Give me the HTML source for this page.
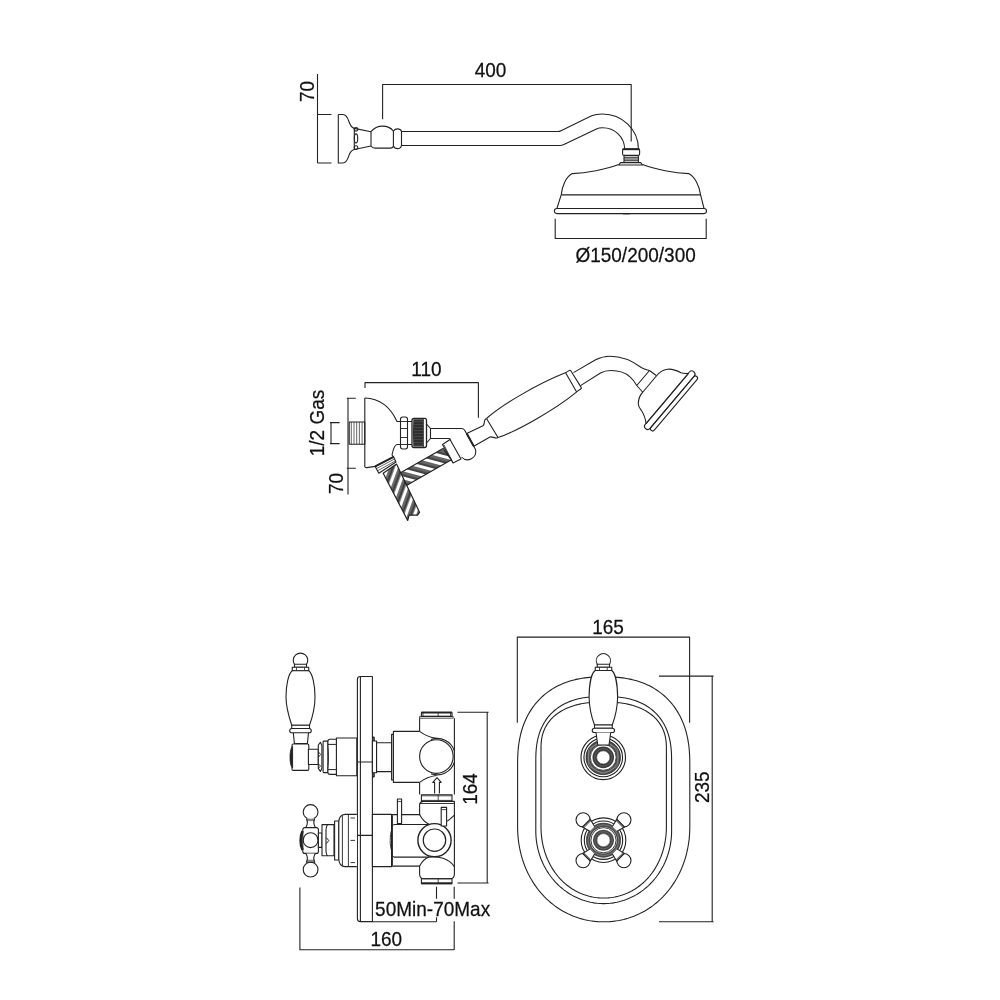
<!DOCTYPE html>
<html><head><meta charset="utf-8">
<style>
html,body{margin:0;padding:0;background:#fff;width:1000px;height:1000px;overflow:hidden}
svg{display:block;will-change:transform}
text{font-family:"Liberation Sans",sans-serif;fill:#111;stroke:#111;stroke-width:0.25px}
</style></head>
<body>
<svg width="1000" height="1000" viewBox="0 0 1000 1000">
<defs>
<pattern id="stripeA" patternUnits="userSpaceOnUse" width="7.8" height="20" patternTransform="rotate(-75)">
<rect width="7.8" height="20" fill="#fff"/>
<rect x="3" width="0.7" height="20" fill="#222"/><rect x="4.2" width="0.7" height="20" fill="#222"/><rect x="5.4" width="0.7" height="20" fill="#222"/><rect x="6.6" width="0.7" height="20" fill="#222"/>
<rect x="3" width="4.8" height="20" fill="#000" opacity="0.35"/>
</pattern>
<pattern id="stripeB" patternUnits="userSpaceOnUse" width="8.3" height="20" patternTransform="rotate(20)">
<rect width="8.3" height="20" fill="#fff"/>
<rect x="3.2" width="0.7" height="20" fill="#222"/><rect x="4.4" width="0.7" height="20" fill="#222"/><rect x="5.6" width="0.7" height="20" fill="#222"/><rect x="6.8" width="0.7" height="20" fill="#222"/>
<rect x="3.2" width="5.1" height="20" fill="#000" opacity="0.35"/>
</pattern>

<pattern id="hatch" patternUnits="userSpaceOnUse" width="1.6" height="1.6" patternTransform="rotate(0)">
<rect width="1.6" height="1.6" fill="#fff"/><rect width="1.6" height="0.9" fill="#333"/>
</pattern>
</defs>
<g fill="none" stroke="#222" stroke-width="1.1" stroke-linejoin="round" stroke-linecap="butt">

<!-- ============ TOP: SHOWER ARM ============ -->
<!-- dim 70 -->
<path d="M317.5,74 V163 M317.5,114.5 H331.5 M317.5,163 H331.5"/>
<!-- escutcheon plate -->
<path d="M338.3,114.5 H343 C347,114.5 348,119 349.5,123 C351,127 353,128.4 355.5,128.6 L371,131.7 M338.3,114.5 V163 H343 C347,163 348,158 349.5,154 C351,150.5 353,149.4 355.5,149.2 L371,146"/>
<path d="M354.3,128.2 V149.3"/>
<ellipse cx="356" cy="129.3" rx="1.8" ry="1.8"/>
<ellipse cx="356" cy="138.4" rx="1.7" ry="4.5"/>
<ellipse cx="356" cy="147.6" rx="1.8" ry="1.9"/>
<!-- ball -->
<path d="M371,131.7 C374,128 378,126.1 382.6,126.1 C387,126.1 391,128 393.4,131 M371,131.7 V146 C372,147.5 373.5,148.1 375,148.1 H390.5 C392.5,148.1 393.4,146.5 393.4,146"/>
<path d="M393.4,131 C394.5,129.5 396,128.9 397.5,128.9 C399.5,128.9 401,130 401.5,131.3 V145.3 C401,147.5 399.5,148.6 397.5,148.6 C395.5,148.6 394,147.5 393.4,146 Z"/>
<!-- arm -->
<path d="M401.5,131.5 H556.8 Q559,131.8 561.5,130.4 L591.6,115.8 Q596,114 602.4,114 A36,35 0 0 1 638.4,148.8"/>
<path d="M401.5,145.5 H560.4 Q562.5,145.4 565,144.1 L596.4,129 Q599,127.8 602.4,127.8 A22,21 0 0 1 624.6,148.8"/>
<!-- dim 400 -->
<path d="M382.6,119.2 V84.5 H631.2 V141.6"/>
<!-- nut -->
<rect x="622.6" y="148.8" width="17" height="6.6" rx="1.5"/>
<path d="M622.6,149.3 H639.6" stroke-width="1.8"/>
<path d="M624,155.4 V162.6 M638.4,155.4 V162.6 M624,157.2 H638.4 M624,159 H638.4 M624,160.8 H638.4"/>
<path d="M618.6,165 L620.5,162.6 H640.7 L642.6,165 Z"/>
<!-- shower head -->
<path d="M618.6,164.5 C606,169.5 586,173 572.2,173.6 C566,177 562,186 561.2,194.9 L556.9,208.5"/>
<path d="M642.6,164.5 C655,169.5 675,173 688.7,173.6 C695,177 699.5,186 700.6,194.9 L704,208.5"/>
<path d="M561.2,194.9 H700.6 M556.9,208.5 H704"/>
<rect x="554.4" y="208.5" width="152.1" height="5.1" rx="2.5"/>
<path d="M623,213.8 H630"/>
<!-- dim diameter -->
<path d="M555.2,218.7 V238.5 H706.2 V218.7"/>

<!-- ============ MIDDLE: HAND SHOWER ============ -->
<path d="M365,388 V382.6 H478.4 V417.8"/>
<path d="M346.8,398.2 H355.8 M348,398.2 V494.6 M346.8,468.2 H355.8"/>
<path d="M330,422.6 H339.6 M331,422.6 V443.6 M330,443.6 H339.6"/>
<!-- thread -->
<rect x="349.2" y="422" width="15.6" height="22.2"/>
<path d="M351.3,422 V444.2 M354,422 V444.2 M356.7,422 V444.2 M359.4,422 V444.2 M362.1,422 V444.2" stroke-width="0.7"/>
<!-- escutcheon dome -->
<path d="M364.8,398 V466.6 Q365,467.8 367,467.6 L375.2,466.4"/>
<path d="M364.8,398 C378,398.5 390,406 397,421.5 H400.5"/>
<path d="M400.5,444.5 H397 C394,445 393,450 392,455 L393.6,456.8"/>
<!-- nut -->
<rect x="400.5" y="417" width="7" height="32" rx="2.2"/>
<path d="M400.5,421.5 H407.5 M400.5,428.5 H407.5 M400.5,437.5 H407.5 M400.5,444.5 H407.5" stroke-width="0.9"/>
<path d="M407.5,421.5 H412 M407.5,444.5 H412"/>
<!-- knurled -->
<rect x="412" y="418.3" width="14.5" height="29.2" rx="2" fill="#fff" stroke-width="1.3"/>
<path d="M413.3,419.3 H423 V446.5 H413.3 Q412.6,433 413.3,419.3 Z" fill="#2e2e2e" stroke="none"/>
<path d="M414,421.5 H423 M414,424.5 H423 M414,427.5 H423 M414,430.5 H423 M414,433.5 H423 M414,436.5 H423 M414,439.5 H423 M414,442.5 H423 M414,445 H423" stroke="#666" stroke-width="0.45"/>
<path d="M423.5,418.8 V447" stroke-width="0.8"/>
<path d="M426.5,424 L430.5,428.5 V438.5 L426.5,443"/>
<!-- pipe + holder -->
<path d="M430.5,428.5 H461.5 Q463.5,428.5 464.5,430 L475.5,449.5 A8.2,8.2 0 0 1 461.5,457"/>
<path d="M430.5,438.5 H448.5 Q450,438.5 450.6,439.5"/>
<path d="M442.5,444.5 L450,439.5 L461,459 L453,463 Z" fill="#fff"/>
<path d="M444,445 L452.6,462" stroke-width="0.8"/>
<!-- hose to handset -->
<path d="M466.7,433.6 L473.8,446.2" stroke-width="2"/>

<!-- handset -->
<path d="M466.7,433.6 L483,425.75 C484.5,424.5 484.3,422 484.6,420.6 C485,419.5 485.8,418.9 486.5,418.5"/>
<path d="M473.8,446.2 L490,437 C492,436.5 494,438 497,438 L498,437.6"/>
<path d="M486.5,418.5 C502,405 535,385 565.9,372.6 M498,437.5 C515,432 555,410 576.7,391.9 M486.5,418.5 L498,437.5" fill="#fff"/>
<path d="M566.2,372.4 L569.5,370.4 Q570.3,370 570.8,370.7 L581.3,387.6 Q581.6,388.3 581,388.7 L577.2,391.4 Q576.6,391.8 576.2,391.2 L565.9,373.3 Q565.7,372.7 566.2,372.4 Z"/>
<path d="M573.5,372.6 L595.6,359.7 C600,357.5 604,356.2 610,356.2 C620,356.2 630,359 641.25,367.5 C644,369.3 646.5,369.6 649.5,370.5"/>
<path d="M580.5,385.6 L600.5,373 C603,371.5 607,370.5 611,370.5 C620,370.5 627,374 630,376.9 C633,379.5 635,382.5 636.75,385.5"/>
<path d="M649.5,370.5 L656.6,375.75 M649.5,370.5 L636.75,385.5 L642.75,392.25 M656.6,375.75 L642.75,392.25"/>
<path d="M656.6,375.75 C659,372.5 662,370 667.5,369.2 C671,368.8 676,370 681,372.8 C684,373.8 686,373.6 689,373.3"/>
<path d="M642.75,392.25 C640,395 638.5,398.5 638.25,403.5 C638.5,407 640,409 641.25,410.25 C643.5,413.5 645.5,419 646.1,423.75"/>
<g transform="translate(646.1,423.75) rotate(-49.8)">
<path d="M0,0 H65.8"/>
<rect x="-4" y="-0.3" width="74.5" height="6.3" rx="3"/>
<rect x="-1.8" y="6" width="70.6" height="4.4" rx="2.2"/>
</g>
<!-- striped cross hose -->
<path d="M401,472.4 L443,448.4 L451.4,459.8 L406.4,485.6 Q401,483 400.5,478 Z" fill="url(#stripeA)" stroke-width="1.2"/>
<!-- collar down -->
<path d="M375.2,466.4 L393.6,456.8 L396,462 L378.8,473.2 Z" fill="#fff"/>
<path d="M376.5,468.6 L394.5,459 M377.6,470.8 L395.2,461" stroke-width="0.7"/>
<path d="M375.2,466.4 L393.6,456.8" stroke-width="1.9"/>
<!-- striped down hose -->
<path d="M383.2,473.2 L396.5,464.1 L419.6,512.4 L417.5,515.2 L409.1,515.2 L407.7,520.5 Z" fill="url(#stripeB)" stroke-width="1.2"/>

<!-- ============ BOTTOM LEFT: SIDE VIEW ============ -->
<!-- lever handle -->
<path d="M294.5,664.4 A7.25,7.25 0 1 1 306.5,664.4" fill="#fff"/>
<rect x="294.5" y="664.3" width="12" height="3" fill="#fff"/>
<rect x="292.25" y="667.3" width="16.5" height="3.45" fill="#fff"/>
<path d="M296.5,667.5 V670.5 M304.5,667.5 V670.5" stroke-width="0.8"/>
<path d="M292.25,670.75 C288.5,673.5 286,685 286,697 C286,708 289,717 291.75,725.25 H309.5 C312.5,717 315,708 315,697 C315,685 312.5,673.5 308.75,670.75 Z" fill="#fff"/>
<rect x="291.75" y="725.25" width="17.75" height="3.25" fill="#fff"/>
<rect x="289.75" y="728.5" width="21.5" height="4.25" rx="2.1" fill="#fff"/>
<path d="M293.3,732.75 L294.4,743.6 H307.4 L308.5,732.75"/>
<rect x="292" y="744" width="16.8" height="26.4" rx="1.2" fill="#fff"/>
<path d="M292.6,746.2 C290.6,748.5 290,752 290,757.2 C290,762.4 290.6,766 292.6,768 Z" fill="#222" stroke-width="0.8"/>
<rect x="308.4" y="749.2" width="9.9" height="15.3" fill="#fff"/>
<path d="M320.4,742.3 L318.3,745 V768.4 L320.4,771.4 L321.9,768.4 V745.6 Z" fill="#fff"/>
<path d="M318.6,752 L320.6,754.5 L318.6,757 M318.6,764 L320.6,766.2 L318.6,768" stroke-width="0.9"/>
<rect x="323.1" y="741.1" width="4.8" height="31.5" rx="0.8" fill="#fff"/>
<path d="M336.6,739.3 H330 Q327.9,739.3 327.9,741.5 V744.4 Q328.8,757 327.9,769.6 V772.2 Q327.9,774.4 330,774.4 H336.6 Z" fill="#fff"/>
<path d="M328,744.4 H336.6 M328,769.6 H336.6" stroke-width="1"/>
<rect x="336.4" y="738" width="20.4" height="37.8" fill="#fff"/>

<!-- plate -->
<path d="M357.4,679.3 Q357.4,676.5 360.4,676.5 H372.4 V921.6 H360.4 Q357.4,921.6 357.4,918.8 Z" fill="#fff"/>
<path d="M360.4,676.5 V921.6 M357.4,762 H372.4 M357.4,835.4 H372.4"/>

<!-- right of plate upper -->
<path d="M372.4,737 L374,737.5 V776.5 L372.4,777" stroke-width="1.6"/>
<rect x="372.4" y="741" width="4.2" height="31.8" fill="#fff"/>
<rect x="376.6" y="742.8" width="15" height="28.8" fill="#fff"/>
<rect x="391.6" y="734.4" width="1.8" height="45.6" fill="#fff"/>
<rect x="393.4" y="731.4" width="26.2" height="51" fill="#fff" stroke="none"/>
<path d="M419.6,731.4 H393.4 V782.4 H419.6"/>
<!-- T body upper -->
<path d="M419.6,718.2 V731.4 M419.6,782.4 V794.4 M454.4,718.2 V794.4"/>
<rect x="421.4" y="712.2" width="30.6" height="4.2" rx="0.5"/>
<path d="M421.4,712.6 H452" stroke-width="1.8"/>
<path d="M419.6,716.4 H453.2 V718.2 H419.6 Z M438.2,712.2 V716.4 M423,713 V716 M450.5,713 V716" stroke-width="0.8"/>
<path d="M419.6,731.4 C425,735.5 430,737.5 436.4,738.3"/>
<path d="M419.6,782.4 C425,778.3 430,776.3 436.4,775.5"/>
<circle cx="436.4" cy="756.6" r="16.8"/>
<path d="M431,739.5 A18,18 0 0 1 454.4,751" />
<path d="M431,773.7 A18,18 0 0 0 454.4,762.2" />
<path d="M434.6,793.6 V782.4 H432.8 L437,777.6 L441.2,782.4 H439.4 V793.6"/>

<!-- lower valve -->
<rect x="372.4" y="814.4" width="19.2" height="52.2" fill="#fff"/>

<rect x="421.4" y="794.8" width="30.6" height="6.6"/>
<path d="M421.4,795.8 H452 M421.4,800.4 H452 M438.2,794.8 V801.4" stroke-width="0.8"/>
<path d="M420,803.5 H454.4" stroke-width="0.9"/>
<path d="M423,801.4 H454.4 V874 Q454.4,878.8 450,878.8 H424 Q419.6,878.8 419.6,874 V865.6"/>
<path d="M423,801.4 Q419.6,802 419.6,805 V815.2"/>
<path d="M419.6,814.6 C422,819.5 425,822.8 429.5,824.5"/>
<path d="M419.6,866.1 C422,861.5 425,858.5 429.1,857.1"/>
<path d="M447.2,821.2 C450,819.5 452,817.5 454.4,815.2"/>
<path d="M429.1,857.1 C438,855.8 449,858.5 454.4,866.6"/>
<path d="M391.6,814.6 H419.6 M391.6,866.1 H419.6 M393.8,824.5 H429.5 M393.8,857.1 H429.1"/>
<path d="M392,815.2 V865.6" stroke-width="1.8"/>
<path d="M394,824.5 C391.8,825.5 391.3,827.5 391.8,829.5 C389.8,835 389.6,846 391.8,851 C391.3,853 391.8,856 394,857" stroke-width="0.9"/>
<circle cx="434.5" cy="840.2" r="16.6" fill="#fff" stroke-width="1.4"/>
<circle cx="434.5" cy="840.2" r="11.2" stroke-width="1.2"/>
<rect x="397.4" y="799" width="4.2" height="24.6" fill="#fff"/>
<path d="M397.4,801.6 H401.6" stroke-width="0.8"/>
<rect x="441.2" y="807.4" width="5.4" height="18.6" fill="#fff"/>
<path d="M441.2,809.6 H446.6" stroke-width="0.8"/>
<rect x="421.4" y="878.8" width="30.6" height="4.8"/>
<path d="M421.4,882.8 H452 M438.2,878.8 V883.6" stroke-width="0.8"/>
<path d="M421.4,883.4 H452" stroke-width="1.6"/>

<!-- cross handle side -->
<circle cx="310.6" cy="812" r="7.4" fill="#fff"/>
<path d="M306.4,818.6 C308,822 307.5,825 305.8,827.6 H315.4 C313.7,825 313.2,822 314.8,818.6" fill="#fff"/>
<path d="M306.8,819.6 H314.4 M306.6,820.6 H314.6" stroke-width="0.6"/>
<rect x="302.8" y="827.6" width="15.6" height="25.8" rx="2" fill="#fff"/>
<circle cx="310.6" cy="840.2" r="7.4"/>
<path d="M302.6,831 C300,836 300,845 302.6,850" stroke-width="2.6"/>
<path d="M305.8,853.4 C307.5,856 308,859 306.4,862.2 H314.8 C313.2,859 313.7,856 315.4,853.4" fill="#fff"/>
<path d="M306.6,860.2 H314.6 M306.8,861.2 H314.4" stroke-width="0.6"/>
<circle cx="310.6" cy="869.6" r="7.4" fill="#fff"/>
<rect x="318.4" y="833" width="3.6" height="14.4" fill="#fff"/>
<rect x="322" y="824.6" width="12" height="31.2" fill="#fff"/>
<path d="M327.5,825 Q325.8,827 326,832 V849 Q325.8,854 327.5,856" stroke-width="1.1"/>
<path d="M326.2,837.5 L328.8,840.6 L326.2,843.7" stroke-width="1"/>
<rect x="334.6" y="821" width="4.2" height="39" fill="#fff"/>
<path d="M338.8,814.4 H356.8 V866.6 H338.8 C335.5,866 340.5,866 338.8,866.6 Z" stroke="none" fill="#fff"/>
<path d="M356.8,814.4 H345 C341,814.4 338.8,818 338.8,822 V859 C338.8,863 341,866.6 345,866.6 H356.8"/>
<path d="M342.4,815.5 V865.5 M348.4,814.4 V866.6" stroke-width="0.9"/>
<path d="M350.5,818 H355 M350.5,840.4 H355 M350.5,862.6 H355" stroke-width="0.9"/>

<!-- dims bottom left -->
<path d="M457.4,712.2 H488.6 M487.2,712.2 V883 M457.4,883 H488.6"/>
<path d="M436.5,886.7 V898.8 M436.5,917.3 V921.8 M454.2,886.7 V898.8 M454.2,921.3 V950"/>
<path d="M372.4,921.8 H436.5"/>
<path d="M299.9,887.5 V949.8 H454"/>

<!-- ============ FRONT VIEW ============ -->
<path d="M517.3,722.8 V637.1 H689.6 V722.8"/>
<path d="M659,676.1 H713.6 M712.2,676.1 V921.8 M659,921.8 H713.6"/>
<path d="M517.60,764.50 L517.63,760.52 L517.70,757.33 L517.83,754.38 L518.01,751.58 L518.24,748.89 L518.52,746.29 L518.85,743.76 L519.23,741.30 L519.66,738.90 L520.15,736.55 L520.68,734.25 L521.26,732.00 L521.89,729.79 L522.57,727.63 L523.30,725.51 L524.08,723.44 L524.91,721.41 L525.79,719.42 L526.71,717.47 L527.69,715.57 L528.71,713.70 L529.77,711.88 L530.89,710.10 L532.05,708.36 L533.25,706.67 L534.50,705.01 L535.80,703.40 L537.14,701.84 L538.53,700.31 L539.95,698.84 L541.43,697.40 L542.94,696.01 L544.50,694.67 L546.10,693.37 L547.75,692.12 L549.43,690.92 L551.16,689.76 L552.93,688.65 L554.74,687.59 L556.59,686.57 L558.48,685.61 L560.41,684.69 L562.39,683.82 L564.40,683.00 L566.46,682.23 L568.56,681.51 L570.70,680.84 L572.89,680.23 L575.12,679.66 L577.40,679.14 L579.74,678.67 L582.12,678.26 L584.57,677.90 L587.09,677.59 L589.68,677.33 L592.37,677.12 L595.19,676.96 L598.19,676.86 L601.53,676.81 L605.87,676.81 L609.21,676.86 L612.21,676.96 L615.03,677.12 L617.72,677.33 L620.31,677.59 L622.83,677.90 L625.28,678.26 L627.66,678.67 L630.00,679.14 L632.28,679.66 L634.51,680.23 L636.70,680.84 L638.84,681.51 L640.94,682.23 L643.00,683.00 L645.01,683.82 L646.99,684.69 L648.92,685.61 L650.81,686.57 L652.66,687.59 L654.47,688.65 L656.24,689.76 L657.97,690.92 L659.65,692.12 L661.30,693.37 L662.90,694.67 L664.46,696.01 L665.97,697.40 L667.45,698.84 L668.87,700.31 L670.26,701.84 L671.60,703.40 L672.90,705.01 L674.15,706.67 L675.35,708.36 L676.51,710.10 L677.63,711.88 L678.69,713.70 L679.71,715.57 L680.69,717.47 L681.61,719.42 L682.49,721.41 L683.32,723.44 L684.10,725.51 L684.83,727.63 L685.51,729.79 L686.14,732.00 L686.72,734.25 L687.25,736.55 L687.74,738.90 L688.17,741.30 L688.55,743.76 L688.88,746.29 L689.16,748.89 L689.39,751.58 L689.57,754.38 L689.70,757.33 L689.77,760.52 L689.80,764.50 L689.80,826.50 L689.77,829.25 L689.68,831.90 L689.54,834.52 L689.33,837.11 L689.07,839.68 L688.75,842.23 L688.37,844.75 L687.93,847.25 L687.44,849.74 L686.89,852.20 L686.28,854.63 L685.62,857.05 L684.90,859.43 L684.12,861.79 L683.29,864.12 L682.41,866.43 L681.47,868.70 L680.48,870.94 L679.44,873.15 L678.34,875.32 L677.19,877.46 L676.00,879.56 L674.75,881.62 L673.45,883.65 L672.11,885.63 L670.72,887.57 L669.28,889.47 L667.80,891.32 L666.27,893.13 L664.70,894.90 L663.09,896.61 L661.43,898.28 L659.74,899.89 L658.00,901.46 L656.23,902.97 L654.42,904.43 L652.58,905.84 L650.69,907.19 L648.78,908.49 L646.83,909.73 L644.85,910.91 L642.84,912.04 L640.80,913.11 L638.74,914.12 L636.64,915.06 L634.52,915.95 L632.38,916.78 L630.21,917.55 L628.02,918.25 L625.81,918.89 L623.57,919.47 L621.32,919.98 L619.05,920.43 L616.76,920.82 L614.45,921.14 L612.12,921.40 L609.77,921.60 L607.39,921.73 L604.96,921.79 L602.44,921.79 L600.01,921.73 L597.63,921.60 L595.28,921.40 L592.95,921.14 L590.64,920.82 L588.35,920.43 L586.08,919.98 L583.83,919.47 L581.59,918.89 L579.38,918.25 L577.19,917.55 L575.02,916.78 L572.88,915.95 L570.76,915.06 L568.66,914.12 L566.60,913.11 L564.56,912.04 L562.55,910.91 L560.57,909.73 L558.62,908.49 L556.71,907.19 L554.82,905.84 L552.98,904.43 L551.17,902.97 L549.40,901.46 L547.66,899.89 L545.97,898.28 L544.31,896.61 L542.70,894.90 L541.13,893.13 L539.60,891.32 L538.12,889.47 L536.68,887.57 L535.29,885.63 L533.95,883.65 L532.65,881.62 L531.40,879.56 L530.21,877.46 L529.06,875.32 L527.96,873.15 L526.92,870.94 L525.93,868.70 L524.99,866.43 L524.11,864.12 L523.28,861.79 L522.50,859.43 L521.78,857.05 L521.12,854.63 L520.51,852.20 L519.96,849.74 L519.47,847.25 L519.03,844.75 L518.65,842.23 L518.33,839.68 L518.07,837.11 L517.86,834.52 L517.72,831.90 L517.63,829.25 L517.60,826.50 Z"/>
<path d="M535.80,761.00 L535.82,757.68 L535.88,755.15 L535.97,752.86 L536.11,750.71 L536.28,748.66 L536.49,746.70 L536.75,744.80 L537.03,742.96 L537.36,741.17 L537.73,739.43 L538.13,737.73 L538.57,736.07 L539.05,734.45 L539.57,732.86 L540.12,731.32 L540.71,729.80 L541.34,728.33 L542.01,726.88 L542.71,725.47 L543.45,724.09 L544.22,722.74 L545.04,721.42 L545.88,720.14 L546.77,718.89 L547.69,717.67 L548.64,716.48 L549.63,715.33 L550.65,714.20 L551.71,713.11 L552.81,712.06 L553.94,711.03 L555.10,710.04 L556.30,709.08 L557.53,708.16 L558.79,707.27 L560.09,706.41 L561.42,705.59 L562.79,704.80 L564.19,704.04 L565.62,703.32 L567.09,702.63 L568.59,701.98 L570.13,701.37 L571.70,700.79 L573.31,700.24 L574.95,699.73 L576.64,699.26 L578.36,698.82 L580.12,698.42 L581.93,698.05 L583.79,697.73 L585.69,697.43 L587.66,697.18 L589.69,696.96 L591.79,696.77 L593.99,696.63 L596.32,696.51 L598.84,696.44 L601.72,696.40 L605.68,696.40 L608.56,696.44 L611.08,696.51 L613.41,696.63 L615.61,696.77 L617.71,696.96 L619.74,697.18 L621.71,697.43 L623.61,697.73 L625.47,698.05 L627.28,698.42 L629.04,698.82 L630.76,699.26 L632.45,699.73 L634.09,700.24 L635.70,700.79 L637.27,701.37 L638.81,701.98 L640.31,702.63 L641.78,703.32 L643.21,704.04 L644.61,704.80 L645.98,705.59 L647.31,706.41 L648.61,707.27 L649.87,708.16 L651.10,709.08 L652.30,710.04 L653.46,711.03 L654.59,712.06 L655.69,713.11 L656.75,714.20 L657.77,715.33 L658.76,716.48 L659.71,717.67 L660.63,718.89 L661.52,720.14 L662.36,721.42 L663.18,722.74 L663.95,724.09 L664.69,725.47 L665.39,726.88 L666.06,728.33 L666.69,729.80 L667.28,731.32 L667.83,732.86 L668.35,734.45 L668.83,736.07 L669.27,737.73 L669.67,739.43 L670.04,741.17 L670.37,742.96 L670.65,744.80 L670.91,746.70 L671.12,748.66 L671.29,750.71 L671.43,752.86 L671.52,755.15 L671.58,757.68 L671.60,761.00 L671.60,831.00 L671.58,832.92 L671.51,834.83 L671.39,836.74 L671.22,838.65 L671.01,840.56 L670.75,842.45 L670.44,844.34 L670.09,846.22 L669.69,848.09 L669.25,849.94 L668.76,851.79 L668.22,853.62 L667.64,855.43 L667.01,857.23 L666.35,859.00 L665.63,860.76 L664.88,862.50 L664.08,864.22 L663.24,865.91 L662.35,867.58 L661.43,869.22 L660.47,870.84 L659.46,872.42 L658.42,873.98 L657.34,875.51 L656.22,877.01 L655.07,878.48 L653.88,879.91 L652.65,881.31 L651.39,882.67 L650.10,884.00 L648.78,885.29 L647.42,886.55 L646.03,887.76 L644.62,888.94 L643.17,890.07 L641.70,891.16 L640.20,892.22 L638.68,893.22 L637.13,894.19 L635.56,895.11 L633.97,895.99 L632.35,896.82 L630.72,897.61 L629.06,898.35 L627.39,899.04 L625.70,899.68 L624.00,900.28 L622.28,900.83 L620.55,901.33 L618.81,901.78 L617.06,902.18 L615.29,902.53 L613.52,902.84 L611.75,903.09 L609.97,903.29 L608.18,903.44 L606.39,903.54 L604.60,903.59 L602.80,903.59 L601.01,903.54 L599.22,903.44 L597.43,903.29 L595.65,903.09 L593.88,902.84 L592.11,902.53 L590.34,902.18 L588.59,901.78 L586.85,901.33 L585.12,900.83 L583.40,900.28 L581.70,899.68 L580.01,899.04 L578.34,898.35 L576.68,897.61 L575.05,896.82 L573.43,895.99 L571.84,895.11 L570.27,894.19 L568.72,893.22 L567.20,892.22 L565.70,891.16 L564.23,890.07 L562.78,888.94 L561.37,887.76 L559.98,886.55 L558.62,885.29 L557.30,884.00 L556.01,882.67 L554.75,881.31 L553.52,879.91 L552.33,878.48 L551.18,877.01 L550.06,875.51 L548.98,873.98 L547.94,872.42 L546.93,870.84 L545.97,869.22 L545.05,867.58 L544.16,865.91 L543.32,864.22 L542.52,862.50 L541.77,860.76 L541.05,859.00 L540.39,857.23 L539.76,855.43 L539.18,853.62 L538.64,851.79 L538.15,849.94 L537.71,848.09 L537.31,846.22 L536.96,844.34 L536.65,842.45 L536.39,840.56 L536.18,838.65 L536.01,836.74 L535.89,834.83 L535.82,832.92 L535.80,831.00 Z"/>
<path d="M541.00,748.50 L541.02,746.39 L541.07,744.70 L541.17,743.13 L541.30,741.65 L541.46,740.22 L541.67,738.84 L541.91,737.50 L542.19,736.20 L542.50,734.92 L542.85,733.68 L543.24,732.46 L543.67,731.27 L544.13,730.10 L544.62,728.95 L545.15,727.83 L545.72,726.73 L546.33,725.65 L546.96,724.60 L547.64,723.57 L548.34,722.55 L549.09,721.57 L549.86,720.60 L550.68,719.66 L551.52,718.73 L552.40,717.84 L553.31,716.96 L554.25,716.11 L555.23,715.28 L556.24,714.47 L557.28,713.68 L558.35,712.92 L559.46,712.19 L560.59,711.48 L561.76,710.79 L562.95,710.12 L564.18,709.49 L565.44,708.87 L566.73,708.28 L568.05,707.72 L569.39,707.18 L570.77,706.67 L572.18,706.18 L573.62,705.72 L575.08,705.29 L576.58,704.88 L578.11,704.50 L579.67,704.14 L581.26,703.82 L582.89,703.52 L584.55,703.24 L586.25,702.99 L587.99,702.77 L589.77,702.58 L591.60,702.42 L593.49,702.28 L595.45,702.17 L597.50,702.09 L599.68,702.03 L602.12,702.00 L605.28,702.00 L607.72,702.03 L609.90,702.09 L611.95,702.17 L613.91,702.28 L615.80,702.42 L617.63,702.58 L619.41,702.77 L621.15,702.99 L622.85,703.24 L624.51,703.52 L626.14,703.82 L627.73,704.14 L629.29,704.50 L630.82,704.88 L632.32,705.29 L633.78,705.72 L635.22,706.18 L636.63,706.67 L638.01,707.18 L639.35,707.72 L640.67,708.28 L641.96,708.87 L643.22,709.49 L644.45,710.12 L645.64,710.79 L646.81,711.48 L647.94,712.19 L649.05,712.92 L650.12,713.68 L651.16,714.47 L652.17,715.28 L653.15,716.11 L654.09,716.96 L655.00,717.84 L655.88,718.73 L656.72,719.66 L657.54,720.60 L658.31,721.57 L659.06,722.55 L659.76,723.57 L660.44,724.60 L661.07,725.65 L661.68,726.73 L662.25,727.83 L662.78,728.95 L663.27,730.10 L663.73,731.27 L664.16,732.46 L664.55,733.68 L664.90,734.92 L665.21,736.20 L665.49,737.50 L665.73,738.84 L665.94,740.22 L666.10,741.65 L666.23,743.13 L666.33,744.70 L666.38,746.39 L666.40,748.50 L666.40,826.50 L666.38,828.56 L666.31,830.55 L666.21,832.52 L666.06,834.46 L665.87,836.39 L665.63,838.30 L665.36,840.19 L665.04,842.07 L664.68,843.93 L664.28,845.78 L663.84,847.61 L663.35,849.42 L662.83,851.21 L662.27,852.98 L661.66,854.73 L661.02,856.46 L660.33,858.16 L659.61,859.84 L658.85,861.50 L658.06,863.13 L657.22,864.73 L656.35,866.31 L655.44,867.86 L654.50,869.38 L653.52,870.86 L652.51,872.32 L651.46,873.74 L650.38,875.14 L649.27,876.49 L648.12,877.81 L646.95,879.10 L645.74,880.35 L644.51,881.56 L643.25,882.74 L641.95,883.87 L640.64,884.97 L639.29,886.02 L637.92,887.04 L636.53,888.01 L635.11,888.94 L633.67,889.83 L632.20,890.68 L630.72,891.48 L629.21,892.23 L627.69,892.95 L626.15,893.61 L624.58,894.23 L623.00,894.81 L621.41,895.34 L619.80,895.82 L618.17,896.25 L616.53,896.64 L614.88,896.98 L613.21,897.27 L611.53,897.51 L609.83,897.70 L608.12,897.85 L606.39,897.95 L604.62,897.99 L602.78,897.99 L601.01,897.95 L599.28,897.85 L597.57,897.70 L595.87,897.51 L594.19,897.27 L592.52,896.98 L590.87,896.64 L589.23,896.25 L587.60,895.82 L585.99,895.34 L584.40,894.81 L582.82,894.23 L581.25,893.61 L579.71,892.95 L578.19,892.23 L576.68,891.48 L575.20,890.68 L573.73,889.83 L572.29,888.94 L570.87,888.01 L569.48,887.04 L568.11,886.02 L566.76,884.97 L565.45,883.87 L564.15,882.74 L562.89,881.56 L561.66,880.35 L560.45,879.10 L559.28,877.81 L558.13,876.49 L557.02,875.14 L555.94,873.74 L554.89,872.32 L553.88,870.86 L552.90,869.38 L551.96,867.86 L551.05,866.31 L550.18,864.73 L549.34,863.13 L548.55,861.50 L547.79,859.84 L547.07,858.16 L546.38,856.46 L545.74,854.73 L545.13,852.98 L544.57,851.21 L544.05,849.42 L543.56,847.61 L543.12,845.78 L542.72,843.93 L542.36,842.07 L542.04,840.19 L541.77,838.30 L541.53,836.39 L541.34,834.46 L541.19,832.52 L541.09,830.55 L541.02,828.56 L541.00,826.50 Z"/>

<!-- top valve front -->
<circle cx="603.25" cy="757.4" r="22.25" fill="#fff"/>
<circle cx="603.25" cy="757.4" r="19.3"/>
<circle cx="603.25" cy="757.4" r="15.1" stroke="#4a4a4a" stroke-width="4.2"/>
<circle cx="603.25" cy="757.4" r="15.1" stroke="#aaa" stroke-width="0.5"/>
<path d="M603.25,740.5 L617.9,748.9 V765.9 L603.25,774.3 L588.6,765.9 V748.9 Z" stroke="#999" stroke-width="0.6"/>
<circle cx="603.25" cy="757.4" r="17.2" stroke-width="0.8"/>
<circle cx="603.25" cy="757.4" r="12.9" fill="#fff" stroke-width="0.8"/>
<circle cx="603.25" cy="757.4" r="8.7" stroke="#3c3c3c" stroke-width="4.2"/>
<circle cx="603.25" cy="757.4" r="8.7" stroke="#888" stroke-width="0.4"/>
<circle cx="603.25" cy="757.4" r="6.6" fill="#fff" stroke-width="0.6"/>

<!-- lever front -->
<path d="M597.3,664.4 A7.1,7.1 0 1 1 609.5,664.4" fill="#fff"/>
<rect x="597.25" y="664.3" width="12.25" height="3" fill="#fff"/>
<rect x="595.25" y="667.3" width="16.5" height="3.2" fill="#fff"/>
<path d="M599.5,667.5 V670.3 M607.25,667.5 V670.3" stroke-width="0.8"/>
<path d="M595.25,670.5 C591.5,673 589.2,684 589.1,697 C589.2,708 591.5,717 594.5,725 H612.25 C615.2,717 617.5,708 617.6,697 C617.5,684 615.2,673 611.75,670.5 Z" fill="#fff"/>
<rect x="594.5" y="725" width="17.75" height="3.25" fill="#fff"/>
<rect x="592.25" y="728.25" width="22.25" height="4.25" rx="2.1" fill="#fff"/>
<path d="M596,732.5 L597.75,745 H609 L610.75,732.5" fill="#fff"/>

<!-- cross front -->
<circle cx="603.5" cy="840.2" r="22.3" fill="#fff"/>
<circle cx="603.5" cy="840.2" r="19.2"/>
<circle cx="603.5" cy="840.2" r="15.4" stroke="#4a4a4a" stroke-width="4.2"/>
<circle cx="603.5" cy="840.2" r="15.4" stroke="#aaa" stroke-width="0.5"/>
<g fill="#fff">
<circle cx="583.10" cy="819.80" r="7.1"/>
<circle cx="623.90" cy="819.80" r="7.1"/>
<circle cx="583.10" cy="860.60" r="7.1"/>
<circle cx="623.90" cy="860.60" r="7.1"/>
<path d="M594.59,826.48 L590.24,819.23 L582.53,826.94 L589.78,831.29"/>
<path d="M617.22,831.29 L624.47,826.94 L616.76,819.23 L612.41,826.48"/>
<path d="M589.78,849.11 L582.53,853.46 L590.24,861.17 L594.59,853.92"/>
<path d="M612.41,853.92 L616.76,861.17 L624.47,853.46 L617.22,849.11"/>
</g>
<path d="M590.29,819.32 L582.62,826.99 M590.67,819.94 L583.24,827.37 M591.04,820.56 L583.86,827.74 M624.38,826.99 L616.71,819.32 M623.76,827.37 L616.33,819.94 M623.14,827.74 L615.96,820.56 M582.62,853.41 L590.29,861.08 M583.24,853.03 L590.67,860.46 M583.86,852.66 L591.04,859.84 M616.71,861.08 L624.38,853.41 M616.33,860.46 L623.76,853.03 M615.96,859.84 L623.14,852.66" stroke-width="0.7"/>
<circle cx="603.5" cy="840.2" r="12.6" fill="#fff" stroke-width="0.9"/>
<circle cx="603.5" cy="840.2" r="8.6" stroke="#444" stroke-width="3.9"/>
<circle cx="603.5" cy="840.2" r="8.6" stroke="#999" stroke-width="0.4"/>
<circle cx="603.5" cy="840.2" r="6.6" fill="#fff" stroke-width="0.6"/>

<!-- text -->
</g>
<g>
<text transform="translate(490.5,77.3) scale(0.95,1)" font-size="20" text-anchor="middle">400</text>
<text transform="translate(635.6,261.6) scale(0.95,1)" font-size="20" text-anchor="middle">Ø150/200/300</text>
<text transform="translate(426.5,376) scale(0.95,1)" font-size="20" text-anchor="middle">110</text>
<text transform="translate(314.2,91.5) rotate(-90) scale(0.95,1)" font-size="20" text-anchor="middle">70</text>
<text transform="translate(324,423) rotate(-90) scale(0.95,1)" font-size="20" text-anchor="middle">1/2 Gas</text>
<text transform="translate(343.2,483.5) rotate(-90) scale(0.95,1)" font-size="20" text-anchor="middle">70</text>
<text transform="translate(432.6,916.1) scale(0.95,1)" font-size="20" text-anchor="middle">50Min-70Max</text>
<text transform="translate(386.3,945.8) scale(0.95,1)" font-size="20" text-anchor="middle">160</text>
<text transform="translate(608,634) scale(0.95,1)" font-size="20" text-anchor="middle">165</text>
<text transform="translate(477.2,789) rotate(-90) scale(0.95,1)" font-size="20" text-anchor="middle">164</text>
<text transform="translate(709.1,787.2) rotate(-90) scale(0.95,1)" font-size="20" text-anchor="middle">235</text>
</g>
</svg>
</body></html>
